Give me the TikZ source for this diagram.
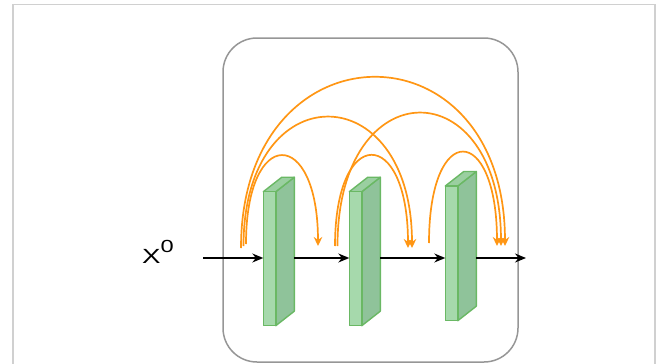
\documentclass[tikz,border=0pt]{standalone}
\usepackage{graphicx}
\usepackage{fontspec}
\setmainfont{Liberation Sans}
\usetikzlibrary{arrows.meta}

\definecolor{framegray}{RGB}{208,208,208}
\definecolor{boxgray}{RGB}{150,150,150}
\definecolor{flowfront}{RGB}{166,217,172}
\definecolor{flowtop}{RGB}{154,207,160}
\definecolor{flowside}{RGB}{143,195,154}
\definecolor{flowedge}{RGB}{106,184,100}
\definecolor{skiporange}{RGB}{255,150,20}

\tikzset{
  outerframe/.style={draw=framegray, line width=1.5pt},
  modulebox/.style={draw=boxgray, line width=1.5pt, rounded corners=34pt},
  blockface/.style={draw=flowedge, line width=1.4pt, line join=round},
  flowarrow/.style={draw=black, line width=1.4pt, -{Stealth[length=11pt,width=9pt]}},
  skiparrow/.style={draw=skiporange, line width=1.7pt, -{Stealth[length=9pt,width=8.5pt]}},
  inlabel/.style={inner sep=0pt, anchor=base west},
}

% a layer block drawn as a thin 3-D slab: #1 name, #2 left x, #3 top y, #4 bottom y
\newcommand{\layerslab}[4]{%
  \filldraw[blockface, fill=flowside]
    (#2+12.5,#3) -- ++(18.5,-14.5) -- ++(0,#4-#3) -- ++(-18.5,14.5) -- cycle;
  \filldraw[blockface, fill=flowtop]
    (#2,#3) -- ++(18.5,-14.5) -- ++(12.5,0) -- ++(-18.5,14.5) -- cycle;
  \filldraw[blockface, fill=flowfront] (#2,#3) rectangle (#2+12.5,#4);
  \coordinate (#1-in) at (#2,258);
  \coordinate (#1-out) at (#2+31,258);
}

\begin{document}
\begin{tikzpicture}[x=1pt, y=-1pt]
  \useasboundingbox (0,0) rectangle (656,364);

  % page frame and module outline
  \draw[outerframe] (13,364) -- (13,4.6) -- (655,4.6) -- (655,364);
  \draw[modulebox] (223,38) rectangle (518,362);

  % input label
  \node[inlabel] (xin) at (142,263.5)
    {\scalebox{1.35}[1]{\fontsize{20.5}{21}\selectfont X\raisebox{11.5pt}{\fontsize{17.5}{18}\selectfont 0}}};

  % layer blocks
  \layerslab{b1}{263.3}{191.7}{325.7}
  \layerslab{b2}{349.3}{191.7}{325.7}
  \layerslab{b3}{445.3}{186}{320.7}

  % main data flow
  \coordinate (start) at (203,258);
  \coordinate (finish) at (526,258);
  \draw[flowarrow] (start) -- (b1-in);
  \draw[flowarrow] (b1-out) -- (b2-in);
  \draw[flowarrow] (b2-out) -- (b3-in);
  \draw[flowarrow] (b3-out) -- (finish);

  % dense skip connections
  \coordinate (sA) at (246,244);   \coordinate (eA) at (318,246);
  \coordinate (sB) at (243.5,246); \coordinate (eB) at (412,248);
  \coordinate (sC) at (241,248);   \coordinate (eC) at (505,246);
  \coordinate (sD) at (335,246);   \coordinate (eD) at (408,248);
  \coordinate (sE) at (337.5,246); \coordinate (eE) at (501,246);
  \coordinate (sF) at (429,243);   \coordinate (eF) at (497,246);

  \draw[skiparrow] (sA) .. controls +(0,-119) and +(0,-119) .. (eA);
  \draw[skiparrow] (sB) .. controls +(0,-173) and +(0,-173) .. (eB);
  \draw[skiparrow] (sC) .. controls +(0,-226) and +(0,-226) .. (eC);
  \draw[skiparrow] (sD) .. controls +(0,-122) and +(0,-122) .. (eD);
  \draw[skiparrow] (sE) .. controls +(0,-177) and +(0,-177) .. (eE);
  \draw[skiparrow] (sF) .. controls +(0,-123) and +(0,-123) .. (eF);
\end{tikzpicture}
\end{document}
